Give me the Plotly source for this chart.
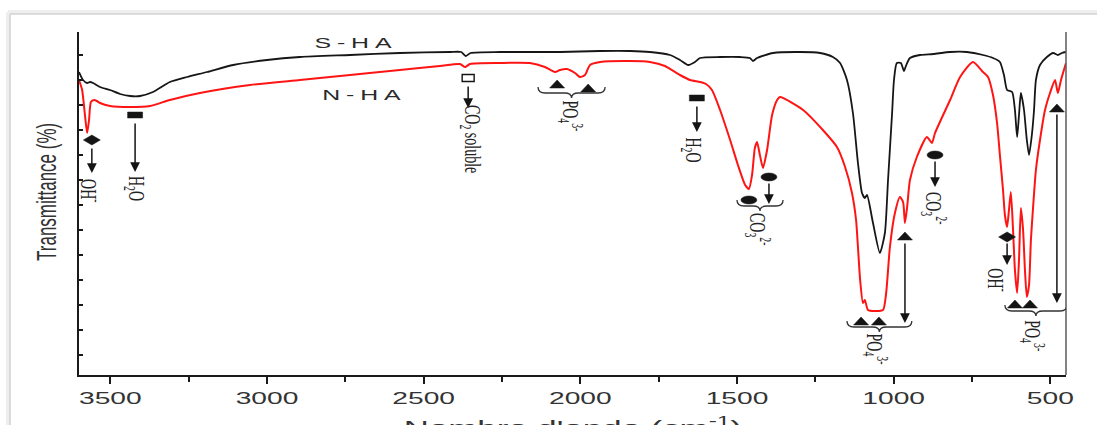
import plotly.graph_objects as go

# ---------------------------------------------------------------------------
# FTIR spectra: wavenumber (cm-1) and transmittance (%)
# ---------------------------------------------------------------------------
S_HA_WN = [3600, 3587, 3574, 3565, 3555, 3533, 3501, 3469, 3437, 3405,
           3364, 3310, 3255, 3191, 3108, 3000, 2895, 2735, 2576, 2416,
           2380, 2366, 2350, 2256, 2065, 1937, 1841, 1778, 1714, 1682,
           1656, 1634, 1618, 1554, 1490, 1459, 1449, 1436, 1385, 1299,
           1235, 1194, 1171, 1149, 1130, 1114, 1101, 1092, 1085, 1066,
           1044, 1028, 1018, 1005, 999, 990, 977, 967, 961, 948,
           916, 874, 820, 766, 715, 683, 661, 648, 638, 622,
           613, 606, 600, 594, 584, 575, 568, 559, 552, 546,
           533, 511, 491, 476, 463, 450]
S_HA_T = [91.6, 90.0, 89.4, 89.6, 89.4, 88.6, 88.0, 87.2, 86.8, 86.8,
          87.6, 89.6, 90.6, 91.6, 93.0, 94.0, 94.6, 95.0, 95.4, 95.6,
          95.6, 94.8, 95.4, 95.6, 95.6, 95.8, 95.8, 95.6, 95.0, 94.0,
          93.0, 93.6, 94.4, 94.6, 94.6, 94.4, 93.8, 94.4, 95.4, 95.6,
          95.4, 94.6, 93.4, 90.0, 83.4, 73.4, 67.4, 66.4, 67.0, 61.4,
          55.4, 59.4, 70.0, 83.4, 90.0, 93.4, 93.4, 91.8, 92.8, 94.4,
          95.0, 95.2, 95.6, 95.6, 95.0, 94.4, 93.6, 91.0, 88.0, 87.6,
          84.0, 78.6, 83.0, 87.4, 84.0, 78.0, 75.0, 79.0, 84.0, 90.0,
          93.0, 94.6, 95.4, 95.0, 95.4, 95.6]

N_HA_WN = [3600, 3590, 3581, 3574, 3568, 3562, 3552, 3543, 3533, 3501,
           3437, 3373, 3310, 3214, 3054, 2895, 2735, 2576, 2448, 2384,
           2368, 2352, 2256, 2161, 2113, 2081, 2065, 2043, 2017, 2001,
           1985, 1969, 1937, 1841, 1778, 1730, 1682, 1650, 1618, 1599,
           1580, 1554, 1522, 1497, 1474, 1462, 1452, 1443, 1436, 1427,
           1417, 1404, 1388, 1372, 1363, 1289, 1226, 1181, 1155, 1133,
           1120, 1114, 1107, 1098, 1092, 1082, 1060, 1034, 1024, 1012,
           996, 980, 970, 964, 957, 948, 926, 894, 878, 868,
           820, 788, 747, 715, 699, 683, 670, 661, 651, 645,
           638, 632, 626, 619, 613, 606, 600, 594, 587, 581,
           575, 568, 562, 555, 546, 533, 517, 501, 485, 476,
           466, 450]
N_HA_T = [90.0, 88.0, 83.0, 79.4, 82.0, 85.6, 86.0, 85.8, 85.4, 84.8,
          84.6, 84.8, 86.0, 87.4, 89.0, 90.0, 91.0, 92.0, 92.8, 93.2,
          92.6, 93.2, 93.4, 93.4, 92.6, 91.6, 92.0, 92.2, 91.4, 90.6,
          91.0, 93.0, 93.6, 93.8, 93.6, 92.8, 91.0, 90.0, 89.6, 89.2,
          88.0, 84.0, 78.0, 73.0, 69.0, 68.2, 71.0, 76.4, 77.6, 75.0,
          72.4, 76.0, 83.0, 86.0, 86.6, 84.0, 80.0, 76.6, 72.6, 67.4,
          62.0, 56.6, 50.0, 45.4, 46.0, 44.0, 43.8, 44.0, 47.4, 56.6,
          63.4, 66.6, 65.6, 61.4, 64.6, 70.0, 74.6, 78.6, 77.4, 79.4,
          86.0, 90.6, 93.6, 91.6, 90.6, 87.0, 81.4, 75.0, 68.0, 63.0,
          60.6, 64.0, 67.6, 60.0, 52.0, 47.4, 54.0, 64.4, 60.0, 52.0,
          46.6, 49.0, 58.0, 64.6, 72.0, 78.0, 84.0, 87.4, 90.0, 87.4,
          90.0, 93.4]

assert len(S_HA_WN) == len(S_HA_T) and len(N_HA_WN) == len(N_HA_T)

X_TICKS = [3500, 3000, 2500, 2000, 1500, 1000, 500]
X_TICK_TEXT = ["3500", "3000", "2500", "2000", "1500", "1000", "500"]
X_MINOR = [3250, 2750, 2250, 1750, 1250, 750]
Y_TICKS = [35, 40, 45, 50, 55, 60, 65, 70, 75, 80, 85, 90, 95]
X_TITLE = "Nombre d'onde (cm<sup>-1</sup>)"
Y_TITLE = "Transmittance (%)"

# Band symbols: (symbol kind, wavenumber, transmittance)
BAND_SYMBOLS = [
    ("diamond", 3559, 78.0),
    ("bar", 3421, 83.0),
    ("open", 2358, 90.4),
    ("triangle", 2074, 89.2),
    ("triangle", 1975, 88.4),
    ("bar", 1628, 86.4),
    ("ellipse", 1398, 70.6),
    ("ellipse", 1462, 66.0),
    ("triangle", 1104, 41.8),
    ("triangle", 1047, 41.8),
    ("triangle", 964, 58.8),
    ("ellipse", 868, 75.0),
    ("diamond", 638, 58.6),
    ("triangle", 613, 45.2),
    ("triangle", 565, 45.2),
    ("triangle", 479, 84.4),
]

# Downward arrows: (wavenumber, tail transmittance, tip transmittance)
BAND_ARROWS = [
    (3559, 76.6, 71.4),
    (3421, 81.6, 71.6),
    (2358, 89.0, 84.4),
    (1628, 85.0, 79.6),
    (1398, 69.6, 65.2),
    (964, 57.6, 41.4),
    (868, 74.0, 68.6),
    (638, 57.6, 53.0),
    (479, 83.4, 45.4),
]

# Grouping braces: (start wavenumber, end wavenumber, transmittance)
BAND_BRACES = [
    (2135, 1921, 87.4),
    (1500, 1353, 64.8),
    (1149, 942, 40.6),
    (645, 447, 43.8),
]

# Band assignments: (label, wavenumber, transmittance)
BAND_LABELS = [
    ("OH<sup>-</sup>", 3562, 67.8),
    ("H<sub>2</sub>O", 3421, 68.4),
    ("CO<sub>2</sub> soluble", 2349, 78.2),
    ("PO<sub>4</sub><sup>3-</sup>", 2031, 82.8),
    ("H<sub>2</sub>O", 1642, 76.0),
    ("CO<sub>3</sub><sup>2-</sup>", 1433, 60.0),
    ("PO<sub>4</sub><sup>3-</sup>", 1058, 36.2),
    ("CO<sub>3</sub><sup>2-</sup>", 871, 64.4),
    ("OH<sup>-</sup>", 668, 50.0),
    ("PO<sub>4</sub><sup>3-</sup>", 556, 38.8),
]

# Sample names: (name, wavenumber, transmittance)
SAMPLE_NAMES = [("S-HA", 2716, 97.6), ("N-HA", 2690, 87.2)]

# ---------------------------------------------------------------------------
# Geometry of the figure
# ---------------------------------------------------------------------------
FIG_W, FIG_H = 1097, 425
M_L, M_R, M_T, M_B = 79, 31, 32, 50
X_RANGE = [3600, 450]
Y_RANGE = [31, 99.6]
PLOT_W = FIG_W - M_L - M_R
PLOT_H = FIG_H - M_T - M_B
PX_PER_WN = PLOT_W / (X_RANGE[0] - X_RANGE[1])
PX_PER_T = PLOT_H / (Y_RANGE[1] - Y_RANGE[0])
INK = "#141414"
SANS = "Liberation Sans, Arial, sans-serif"
SERIF = "Liberation Serif, Times New Roman, serif"


def half_size(w_px, h_px):
    return w_px / 2 / PX_PER_WN, h_px / 2 / PX_PER_T


def symbol_shape(kind, wn, t):
    common = dict(xref="x", yref="y", layer="above")
    if kind == "bar":
        dx, dy = half_size(15, 6)
        return dict(type="rect", x0=wn - dx, x1=wn + dx, y0=t - dy, y1=t + dy,
                    fillcolor=INK, line=dict(color=INK, width=0.5), **common)
    if kind == "open":
        dx, dy = half_size(12, 7)
        return dict(type="rect", x0=wn - dx, x1=wn + dx, y0=t - dy, y1=t + dy,
                    fillcolor="white", line=dict(color=INK, width=1.4), **common)
    if kind == "ellipse":
        dx, dy = half_size(16, 8)
        return dict(type="circle", x0=wn - dx, x1=wn + dx, y0=t - dy, y1=t + dy,
                    fillcolor=INK, line=dict(color=INK, width=0.5), **common)
    if kind == "diamond":
        dx, dy = half_size(17, 10)
        path = (f"M{wn - dx},{t} L{wn},{t + dy} L{wn + dx},{t} "
                f"L{wn},{t - dy} Z")
    else:  # triangle
        dx, dy = half_size(15, 8)
        path = f"M{wn - dx},{t - dy} L{wn},{t + dy} L{wn + dx},{t - dy} Z"
    return dict(type="path", path=path, fillcolor=INK,
                line=dict(color=INK, width=0.5), **common)


def brace_shape(w0, w1, t):
    s = 1 if w1 > w0 else -1
    r = 7 / PX_PER_WN
    arm = 6 / PX_PER_T
    tip = 5 / PX_PER_T
    wm = (w0 + w1) / 2
    path = (f"M{w0},{t + arm} Q{w0},{t} {w0 + s * r},{t} "
            f"L{wm - s * r},{t} Q{wm},{t} {wm},{t - tip} "
            f"Q{wm},{t} {wm + s * r},{t} L{w1 - s * r},{t} "
            f"Q{w1},{t} {w1},{t + arm}")
    return dict(type="path", path=path, xref="x", yref="y", layer="above",
                line=dict(color="#333", width=1.3))


def px_to_paper_x(p):
    return (p - M_L) / PLOT_W


def px_to_paper_y(p):
    return (FIG_H - M_B - p) / PLOT_H


fig = go.Figure()

fig.add_trace(go.Scatter(
    x=S_HA_WN, y=S_HA_T, mode="lines", name="S-HA",
    line=dict(color="#161616", width=1.8, shape="spline", smoothing=0.6),
))
fig.add_trace(go.Scatter(
    x=N_HA_WN, y=N_HA_T, mode="lines", name="N-HA",
    line=dict(color="#ff1414", width=2, shape="spline", smoothing=0.6),
))

shapes = []

# frame around the figure, with a soft shadow
fx, fy = px_to_paper_x(10), px_to_paper_y(14)
fx_s, fy_s = px_to_paper_x(8), px_to_paper_y(12)
shapes.append(dict(type="line", xref="paper", yref="paper", x0=fx_s, x1=fx_s,
                   y0=fy_s, y1=px_to_paper_y(FIG_H + 5),
                   line=dict(color="#eeeeee", width=4)))
shapes.append(dict(type="line", xref="paper", yref="paper", x0=fx_s, x1=1.2,
                   y0=fy_s, y1=fy_s, line=dict(color="#eeeeee", width=4)))
shapes.append(dict(type="line", xref="paper", yref="paper", x0=fx, x1=fx,
                   y0=fy, y1=px_to_paper_y(FIG_H + 5),
                   line=dict(color="#d2d2d2", width=1.5)))
shapes.append(dict(type="line", xref="paper", yref="paper", x0=fx, x1=1.2,
                   y0=fy, y1=fy, line=dict(color="#d2d2d2", width=1.5)))

# right-hand frame line of the plot
shapes.append(dict(type="line", xref="paper", yref="paper", x0=1, x1=1,
                   y0=0, y1=1, line=dict(color="#5a5a5a", width=1.5)))

for kind, wn, t in BAND_SYMBOLS:
    shapes.append(symbol_shape(kind, wn, t))
for w0, w1, t in BAND_BRACES:
    shapes.append(brace_shape(w0, w1, t))

annotations = []
for wn, tail, tip in BAND_ARROWS:
    annotations.append(dict(
        x=wn, y=tip, ax=wn, ay=tail, xref="x", yref="y", axref="x", ayref="y",
        text="", showarrow=True, arrowhead=2, arrowsize=1.3, arrowwidth=1.5,
        arrowcolor=INK, standoff=0, startstandoff=0,
    ))
for label, wn, t in BAND_LABELS:
    annotations.append(dict(
        x=wn, y=t, xref="x", yref="y", text=label, showarrow=False,
        textangle=90, xanchor="center", yanchor="middle",
        font=dict(family=SERIF, size=14, color="#222"),
    ))
for name, wn, t in SAMPLE_NAMES:
    annotations.append(dict(
        x=wn, y=t, xref="x", yref="y", text=name, showarrow=False,
        xanchor="center", yanchor="middle",
        font=dict(family=SANS, size=15, color="#2a2a2a"),
    ))

# axis titles
annotations.append(dict(
    x=0.5, y=px_to_paper_y(411), xref="paper", yref="paper", text=X_TITLE,
    showarrow=False, xanchor="center", yanchor="top",
    font=dict(family=SANS, size=21, color="#333"),
))
annotations.append(dict(
    x=px_to_paper_x(46), y=px_to_paper_y(192), xref="paper", yref="paper",
    text=Y_TITLE, showarrow=False, textangle=-90,
    xanchor="center", yanchor="middle",
    font=dict(family=SANS, size=17, color="#333"),
))

fig.update_layout(
    width=FIG_W, height=FIG_H,
    margin=dict(l=M_L, r=M_R, t=M_T, b=M_B, autoexpand=False),
    paper_bgcolor="white", plot_bgcolor="white",
    showlegend=False,
    shapes=shapes,
    annotations=annotations,
    xaxis=dict(
        range=X_RANGE, showgrid=False, zeroline=False, automargin=False,
        showline=True, linecolor="#1a1a1a", linewidth=2,
        ticks="outside", ticklen=7, tickwidth=2, tickcolor="#1a1a1a",
        tickmode="array", tickvals=X_TICKS, ticktext=X_TICK_TEXT,
        tickfont=dict(family=SANS, size=17, color="#333"),
        minor=dict(tickmode="array", tickvals=X_MINOR, ticks="outside",
                   ticklen=5, tickwidth=2, tickcolor="#1a1a1a"),
    ),
    yaxis=dict(
        range=Y_RANGE, showgrid=False, zeroline=False, automargin=False,
        showline=True, linecolor="#1a1a1a", linewidth=2,
        ticks="inside", ticklen=4, tickwidth=1.5, tickcolor="#1a1a1a",
        tickmode="array", tickvals=Y_TICKS, showticklabels=False,
    ),
)

# Wide lettering: every text item is drawn 1.66x wider than its font,
# and the sample names are letter-spaced.
WIDE_TEXT_JS = """
document.body.style.margin = '0';
var gd = document.getElementById('{plot_id}');
var SX = 1.66;
gd.querySelectorAll('.annotation-text').forEach(function (t) {
  var s = t.textContent;
  if (s === 'S-HA' || s === 'N-HA') { t.style.letterSpacing = '3.5px'; }
});
function widen(el) {
  var r = el.getBoundingClientRect();
  if (!r.width || !r.height) { return; }
  var inv = el.parentNode.getScreenCTM().inverse();
  var c = new DOMPoint(r.left + r.width / 2, r.top + r.height / 2).matrixTransform(inv);
  var base = el.getAttribute('transform') || '';
  el.setAttribute('transform', 'translate(' + c.x + ' ' + c.y + ') scale(' + SX +
    ' 1) translate(' + (-c.x) + ' ' + (-c.y) + ') ' + base);
}
gd.querySelectorAll('.xtick text, .annotation-text-g').forEach(widen);
"""

fig.write_html("out.html", post_script=WIDE_TEXT_JS)
